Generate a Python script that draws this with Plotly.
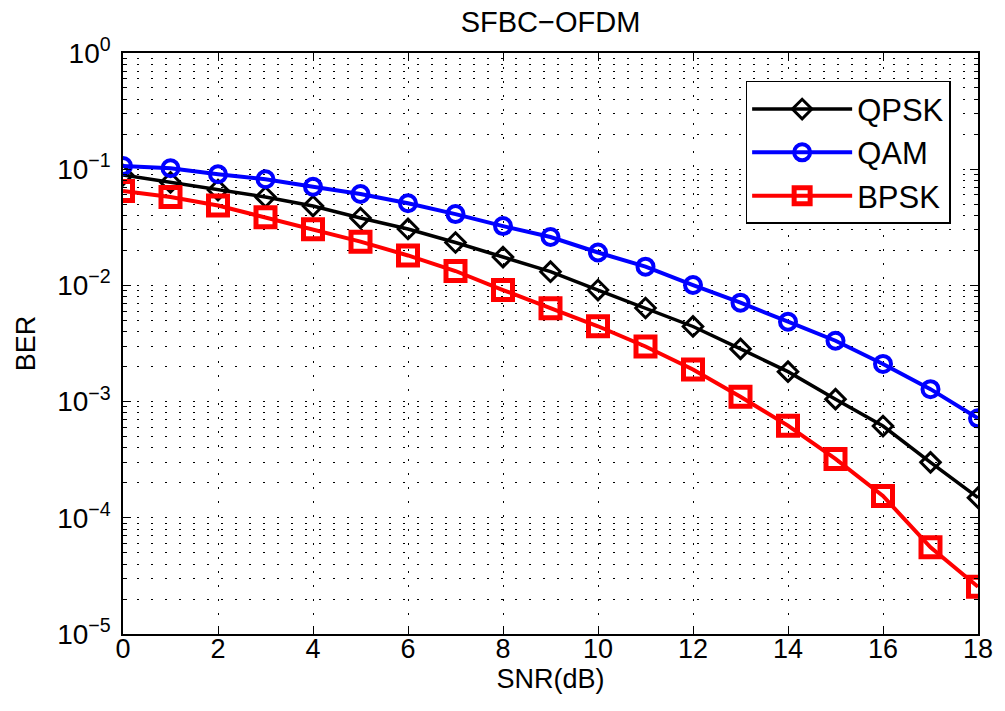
import plotly.graph_objects as go

snr_db = list(range(0, 19))

ber_qpsk = [0.0891, 0.0769, 0.0662, 0.0576, 0.0482, 0.0380, 0.0306, 0.0234, 0.01755, 0.01312,
            0.00912, 0.00639, 0.00443, 0.00284, 0.00181, 0.00105, 0.000616, 0.000300, 0.000149]
ber_qam = [0.1065, 0.1018, 0.0904, 0.0819, 0.0707, 0.0612, 0.0509, 0.0411, 0.0324, 0.0261,
           0.0192, 0.01449, 0.01007, 0.0071, 0.00487, 0.00334, 0.00211, 0.00128, 0.000718]
ber_bpsk = [0.0649, 0.0576, 0.0487, 0.0386, 0.0304, 0.0238, 0.0181, 0.0133, 0.00912, 0.00635,
            0.00445, 0.00298, 0.00189, 0.00110, 0.000621, 0.000321, 0.000154, 5.57e-5, 2.55e-5]

series_names = ["QPSK", "QAM", "BPSK"]
y_tick_vals = [1e-5, 1e-4, 1e-3, 1e-2, 1e-1, 1e0]
y_tick_text = ["10<sup>\u22125</sup>", "10<sup>\u22124</sup>", "10<sup>\u22123</sup>",
               "10<sup>\u22122</sup>", "10<sup>\u22121</sup>", "10<sup>0</sup>"]
x_tick_vals = [0, 2, 4, 6, 8, 10, 12, 14, 16, 18]

minor_vals = [m * 10.0 ** e for e in range(-5, 0) for m in range(2, 10)]

FONT = "Liberation Sans, Arial, Helvetica, sans-serif"
GRID_DASH = "2px,12px"

fig = go.Figure()
styles = [
    (ber_qpsk, "black", "diamond-open", 15, 3, 3.5),
    (ber_qam, "blue", "circle-open", 16, 4, 4),
    (ber_bpsk, "red", "square-open", 19, 5, 4),
]
for name, (vals, col, sym, sz, mlw, lw) in zip(series_names, styles):
    fig.add_trace(go.Scatter(
        x=snr_db, y=vals, name=name, mode="lines+markers",
        line=dict(color=col, width=lw),
        marker=dict(symbol=sym, size=sz, color=col, line=dict(color=col, width=mlw)),
    ))

fig.update_layout(
    width=1005, height=711,
    margin=dict(l=123, r=21, t=53, b=77),
    paper_bgcolor="white", plot_bgcolor="white",
    font=dict(family=FONT, size=27, color="black"),
    title=dict(text="SFBC\u2212OFDM", x=0.5, xref="paper", xanchor="center",
               y=1 - 22 / 711, yref="container", yanchor="middle",
               font=dict(family=FONT, size=29, color="black")),
    showlegend=True,
    legend=dict(x=0.968, y=0.952, xanchor="right", yanchor="top",
                bgcolor="white", bordercolor="black", borderwidth=1.5,
                font=dict(family=FONT, size=31, color="black"),
                itemwidth=100, tracegroupgap=0),
)

fig.update_xaxes(
    range=[0, 18], tickvals=x_tick_vals,
    showline=True, linecolor="black", linewidth=1.5, mirror="ticks",
    ticks="inside", ticklen=8, tickcolor="black", tickwidth=1,
    showgrid=True, gridcolor="black", gridwidth=1, griddash=GRID_DASH,
    zeroline=False, ticklabelstandoff=-10,
    tickfont=dict(family=FONT, size=27, color="black"),
    title=dict(text="SNR(dB)", standoff=4, font=dict(family=FONT, size=27, color="black")),
)
fig.update_yaxes(
    type="log", range=[-5, 0], tickvals=y_tick_vals, ticktext=y_tick_text,
    showline=True, linecolor="black", linewidth=1.5, mirror="ticks",
    ticks="inside", ticklen=8, tickcolor="black", tickwidth=1,
    showgrid=True, gridcolor="black", gridwidth=1, griddash=GRID_DASH,
    zeroline=False, ticklabelstandoff=5,
    tickfont=dict(family=FONT, size=28, color="black"),
    title=dict(text="BER", standoff=14, font=dict(family=FONT, size=27, color="black")),
    minor=dict(tickmode="array", tickvals=minor_vals, ticks="inside", ticklen=4,
               tickcolor="black", showgrid=True, gridcolor="black", gridwidth=1,
               griddash=GRID_DASH),
)

fig.write_html("out.html", config={"displayModeBar": False},
               post_script="document.body.style.margin='0';")
